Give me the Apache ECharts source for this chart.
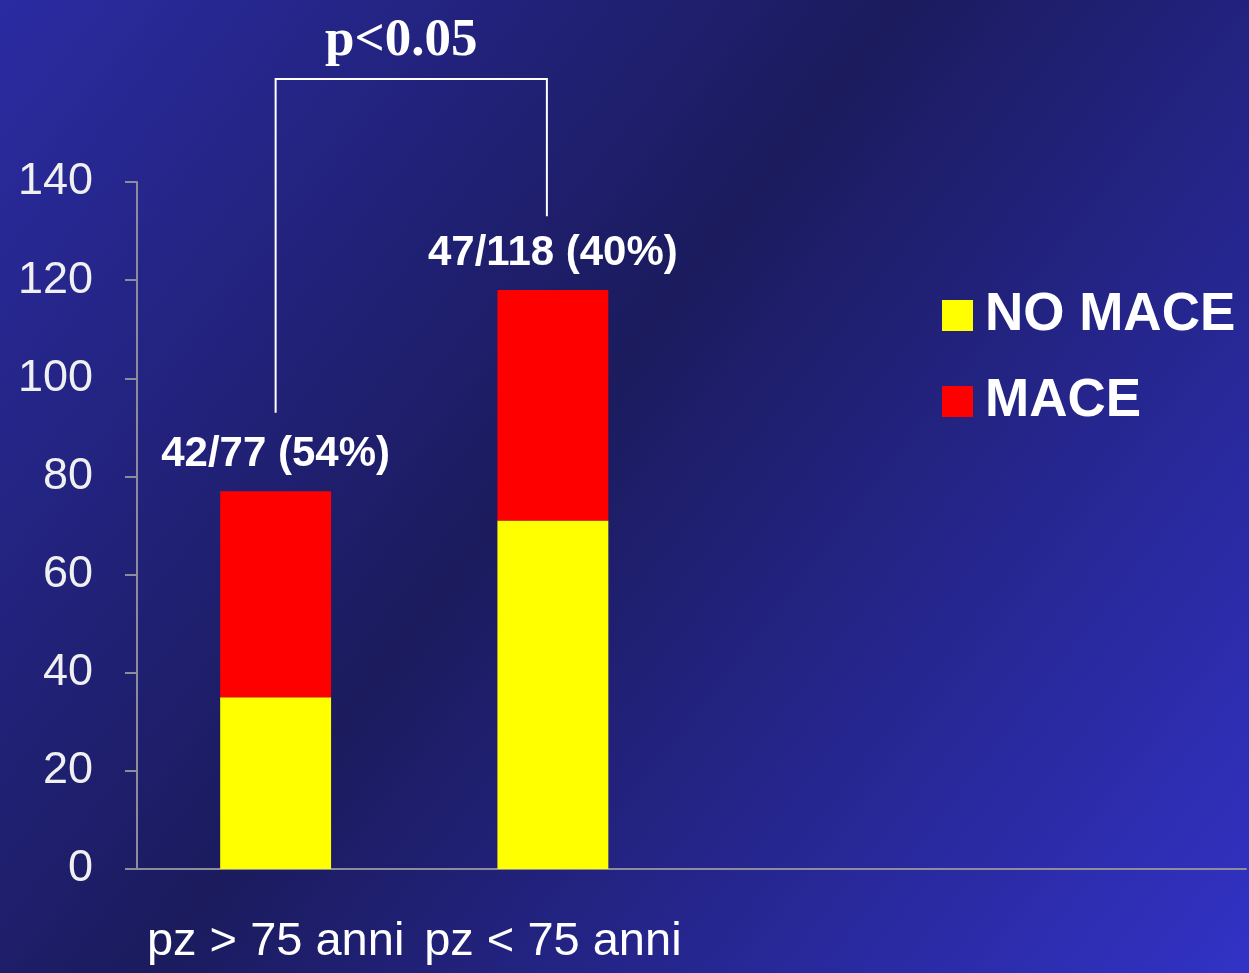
<!DOCTYPE html>
<html>
<head>
<meta charset="utf-8">
<script src="https://cdn.jsdelivr.net/npm/echarts@6/dist/echarts.min.js"></script>
<style>
  html, body { margin: 0; padding: 0; }
  #chart { width: 1249px; height: 973px; }
</style>
</head>
<body>
<div id="chart"></div>
<script>
const categories = ['pz > 75 anni', 'pz < 75 anni', '', '']
const noMace = [35, 71]
const mace = [42, 47]
const topLabels = ['42/77 (54%)', '47/118 (40%)']
const yTicks = { min: 0, max: 140, interval: 20 }
// bracket ends (value units), left leg / right leg / top bar
const bracket = { left: 93, right: 133, top: 161 }
const pText = 'p<0.05'

const font = '"Liberation Sans", Arial, sans-serif'
const axisGray = '#8c8c9c'
const chart = echarts.init(document.getElementById('chart'))

const option = {
  backgroundColor: new echarts.graphic.LinearGradient(0, 0, 1, 1, [
    { offset: 0, color: '#2b2ba2' },
    { offset: 0.45, color: '#1b1b5e' },
    { offset: 1, color: '#3232c6' }
  ]),
  animation: false,
  grid: { left: 137, right: 3, top: 182, bottom: 104 },
  legend: {
    orient: 'vertical',
    left: 937,
    top: 284,
    icon: 'rect',
    itemWidth: 31,
    itemHeight: 31,
    itemGap: 33,
    textStyle: { color: '#ffffff', fontSize: 53, fontWeight: 'bold', fontFamily: font, padding: [0, 0, 0, 7] }
  },
  xAxis: {
    type: 'category',
    data: categories,
    axisLine: { lineStyle: { color: axisGray, width: 2 } },
    axisTick: { length: 12, lineStyle: { color: axisGray, width: 2 } },
    axisLabel: { interval: 0, color: '#ffffff', fontSize: 47, fontFamily: font, margin: 50, hideOverlap: false }
  },
  yAxis: {
    type: 'value',
    min: yTicks.min,
    max: yTicks.max,
    interval: yTicks.interval,
    splitLine: { show: false },
    axisLine: { show: true, lineStyle: { color: axisGray, width: 2 } },
    axisTick: { show: true, length: 12, lineStyle: { color: axisGray, width: 2 } },
    axisLabel: { color: '#f0f0f0', fontSize: 45, fontFamily: font, margin: 44 }
  },
  series: [
    {
      name: 'NO MACE',
      type: 'bar',
      stack: 'tot',
      barWidth: '40%',
      data: noMace,
      itemStyle: { color: '#ffff00' }
    },
    {
      name: 'MACE',
      type: 'bar',
      stack: 'tot',
      data: mace,
      itemStyle: { color: '#ff0000' },
      label: {
        show: true,
        position: 'top',
        distance: 16,
        color: '#ffffff',
        fontSize: 42,
        fontWeight: 'bold',
        fontFamily: font,
        formatter: p => topLabels[p.dataIndex]
      }
    }
  ]
}

chart.setOption(option)

// significance bracket, placed through the chart's own scales
const pL = chart.convertToPixel({ gridIndex: 0 }, [categories[0], bracket.left])
const pR = chart.convertToPixel({ gridIndex: 0 }, [categories[1], bracket.right])
const yTop = chart.convertToPixel({ gridIndex: 0 }, [categories[0], bracket.top])[1]
const xR = pR[0] - 6

chart.setOption({
  graphic: [
    {
      type: 'polyline',
      shape: { points: [[pL[0], pL[1]], [pL[0], yTop], [xR, yTop], [xR, pR[1]]] },
      style: { stroke: '#ffffff', lineWidth: 2, fill: null }
    },
    {
      type: 'text',
      x: (pL[0] + xR) / 2 - 10,
      y: yTop - 38,
      style: {
        text: pText,
        fill: '#ffffff',
        font: 'bold 53px "Liberation Serif", "Times New Roman", serif',
        align: 'center',
        verticalAlign: 'middle'
      }
    }
  ]
})

window.addEventListener('resize', () => chart.resize())
</script>
</body>
</html>
